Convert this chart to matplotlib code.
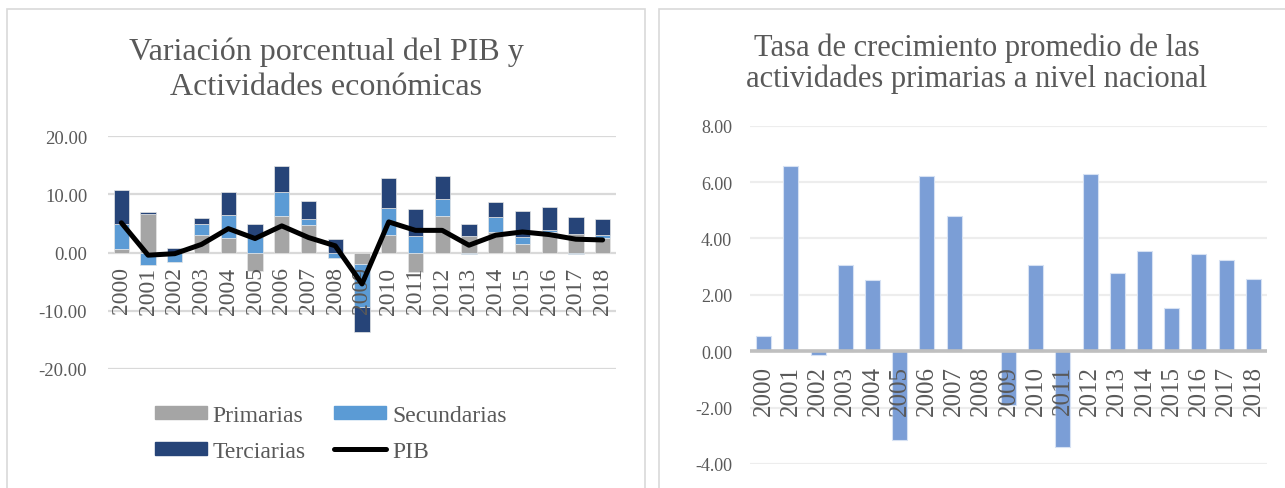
import matplotlib
matplotlib.use("Agg")
import matplotlib.pyplot as plt
from matplotlib.patches import Rectangle, Patch
from matplotlib.lines import Line2D
import numpy as np

plt.rcParams['font.family'] = ['Liberation Serif', 'DejaVu Serif']

years = [str(y) for y in range(2000, 2019)]
primarias = [0.53, 6.58, -0.15, 3.06, 2.52, -3.15, 6.22, 4.79, 0.0, -1.90,
             3.07, -3.40, 6.27, 2.77, 3.55, 1.54, 3.44, 3.22, 2.55]
secundarias = [4.3, -2.1, -1.5, 1.8, 3.85, 2.74, 4.2, 0.9, -0.97, -7.5,
               4.5, 2.85, 2.87, -0.2, 2.57, 1.2, 0.4, -0.3, 0.45]
terciarias = [5.9, 0.3, 0.8, 1.0, 4.0, 2.1, 4.35, 3.1, 2.3, -4.2,
              5.3, 4.65, 3.96, 2.15, 2.5, 4.3, 3.9, 2.95, 2.83]
pib = [5.1, -0.46, -0.2, 1.4, 4.1, 2.4, 4.57, 2.57, 1.15, -5.4,
       5.25, 3.8, 3.8, 1.25, 2.97, 3.53, 3.08, 2.28, 2.16]
ticks1 = [-20, -10, 0, 10, 20]
ticks2 = [-4, -2, 0, 2, 4, 6, 8]

TXT = '#595959'
W, H = 1285, 489

fig = plt.figure(figsize=(W / 100, H / 100), dpi=100)


def fx(px):
    return px / W


def fy(py):
    return 1 - py / H


# panel frames
for x0, x1 in [(7, 645), (659, 1292)]:
    fig.patches.append(Rectangle((fx(x0), fy(520)), fx(x1 - x0), (520 - 10) / H,
                                 transform=fig.transFigure, fill=False,
                                 edgecolor='#D9D9D9', lw=1.2))

x = np.arange(len(years))


def style_axis(a, ticks, xsize, ysize, ypad, gridcol):
    # move the category axis to y=0 first: this resets the ticks
    a.spines['bottom'].set_position(('data', 0))
    for s in a.spines.values():
        s.set_visible(False)
    a.set_xticks(x)
    a.set_xticklabels(years)
    a.tick_params(axis='x', length=0, pad=10, labelsize=xsize, colors=TXT,
                  labelrotation=90)
    for t in a.get_xticklabels():
        t.set_va('top')
    a.set_yticks(ticks)
    a.set_yticklabels([f'{v:.2f}' for v in ticks])
    a.tick_params(axis='y', length=0, pad=ypad, labelsize=ysize, colors=TXT)
    # gridlines drawn by hand so the tick labels can sit above the bars
    for t in ticks:
        a.axhline(t, color=gridcol, lw=1.6, zorder=0)
    a.set_xlim(-0.5, 18.5)
    a.set_ylim(ticks[0], ticks[-1])


# ---------- left chart ----------
ax = fig.add_axes([fx(108), fy(370), fx(616 - 108), (370 - 137) / H])
pos_bot = np.zeros(len(years))
neg_bot = np.zeros(len(years))
for vals, col in [(primarias, '#A5A5A5'), (secundarias, '#5B9BD5'), (terciarias, '#264478')]:
    v = np.array(vals)
    bot = np.where(v >= 0, pos_bot, neg_bot)
    ax.bar(x, v, 0.57, bottom=bot, color=col, edgecolor='#E6E6E6', lw=0.5, zorder=1)
    pos_bot += np.where(v >= 0, v, 0)
    neg_bot += np.where(v < 0, v, 0)
ax.plot(x, pib, color='black', lw=3.6, solid_joinstyle='round',
        solid_capstyle='round', zorder=3)
style_axis(ax, ticks1, 17, 13.5, 15, '#D9D9D9')

fig.text(fx(326), fy(60), 'Variación porcentual del PIB y', ha='center',
         va='baseline', fontsize=23, color=TXT)
fig.text(fx(326), fy(95), 'Actividades económicas', ha='center',
         va='baseline', fontsize=23, color=TXT)

handles = [Patch(color='#A5A5A5', label='Primarias'),
           Patch(color='#264478', label='Terciarias'),
           Patch(color='#5B9BD5', label='Secundarias'),
           Line2D([], [], color='black', lw=3.6, solid_capstyle='round', label='PIB')]
fig.legend(handles=handles, ncol=2, loc='upper left',
           bbox_to_anchor=(fx(155), fy(406)), frameon=False, borderpad=0,
           borderaxespad=0, fontsize=17, handlelength=2.2, handleheight=0.5,
           handletextpad=0.25, columnspacing=1.2, labelspacing=0.62,
           labelcolor=TXT)

# ---------- right chart ----------
ax2 = fig.add_axes([fx(750), fy(465), fx(1267 - 750), (465 - 126.7) / H])
ax2.bar(x, primarias, 0.55, color='#7B9ED6', edgecolor='#D6E1F3', lw=0.8, zorder=1)
style_axis(ax2, ticks2, 18, 13, 13, '#EDEDED')
ax2.axhline(0, color='#BFBFBF', lw=2.6, zorder=2)

fig.text(fx(977), fy(56), 'Tasa de crecimiento promedio de las', ha='center',
         va='baseline', fontsize=22, color=TXT)
fig.text(fx(977), fy(87), 'actividades primarias a nivel nacional', ha='center',
         va='baseline', fontsize=22, color=TXT)

fig.savefig('out.png', dpi=100, facecolor='white')
